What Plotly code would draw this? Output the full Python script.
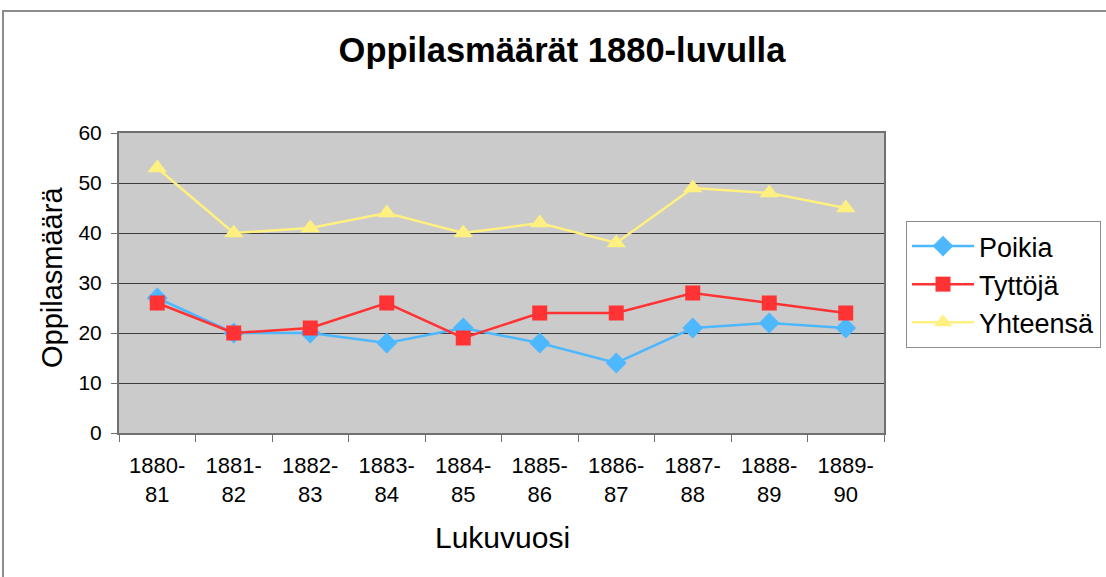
import plotly.graph_objects as go

categories = ["1880-<br>81", "1881-<br>82", "1882-<br>83", "1883-<br>84", "1884-<br>85",
              "1885-<br>86", "1886-<br>87", "1887-<br>88", "1888-<br>89", "1889-<br>90"]
poikia = [27, 20, 20, 18, 21, 18, 14, 21, 22, 21]
tyttoja = [26, 20, 21, 26, 19, 24, 24, 28, 26, 24]
yhteensa = [53, 40, 41, 44, 40, 42, 38, 49, 48, 45]

FONT = "Liberation Sans, Arial, sans-serif"
W, H = 1106, 577
L, R, T, B = 119, 884, 133, 433

fig = go.Figure()
fig.add_trace(go.Scatter(x=categories, y=poikia, name="Poikia", mode="lines+markers",
                         line=dict(color="#4DB8FF", width=2.5),
                         marker=dict(symbol="diamond", size=16, color="#4DB8FF")))
fig.add_trace(go.Scatter(x=categories, y=tyttoja, name="Tyttöjä", mode="lines+markers",
                         line=dict(color="#FF3333", width=2.5),
                         marker=dict(symbol="square", size=15, color="#FF3333")))
fig.add_trace(go.Scatter(x=categories, y=yhteensa, name="Yhteensä", mode="lines+markers",
                         line=dict(color="#FFF07F", width=2.5),
                         marker=dict(symbol="triangle-up", size=17, color="#FFF07F")))

def px(x):
    return (x - L) / (R - L)

def py(y):
    return (B - y) / (B - T)

fig.update_layout(
    width=W, height=H,
    margin=dict(l=L, r=W - R, t=T, b=H - B, autoexpand=False),
    paper_bgcolor="white",
    plot_bgcolor="#CBCBCB",
    font=dict(family=FONT, color="black"),
    title=dict(text="<b>Oppilasmäärät 1880-luvulla</b>", font=dict(size=34.5, family=FONT),
               x=562 / W, xanchor="center", xref="container",
               y=1 - 50 / H, yanchor="middle", yref="container"),
    showlegend=True,
    legend=dict(x=px(906), y=py(221), xanchor="left", yanchor="top",
                bordercolor="#8C8C8C", borderwidth=1, bgcolor="white",
                font=dict(size=27, family=FONT), itemwidth=62),
    xaxis=dict(type="category", range=[-0.5, 9.5], showgrid=False, zeroline=False,
               showline=True, linecolor="#707070", linewidth=2, mirror=True,
               ticks="outside", tickson="boundaries", ticklen=7, tickcolor="#707070",
               tickfont=dict(size=22, family=FONT), ticklabelstandoff=12),
    yaxis=dict(range=[0, 60], dtick=10, showgrid=True, gridcolor="#3C3C3C", gridwidth=1,
               zeroline=False, showline=True, linecolor="#707070", linewidth=2, mirror=True,
               ticks="outside", ticklen=6, tickcolor="#707070",
               tickfont=dict(size=21, family=FONT), ticklabelstandoff=5),
    annotations=[
        dict(text="Lukuvuosi", x=px(502), y=py(537), xref="paper", yref="paper",
             xanchor="center", yanchor="middle", showarrow=False,
             font=dict(size=30, family=FONT)),
        dict(text="Oppilasmäärä", x=px(52), y=py(278), xref="paper", yref="paper",
             xanchor="center", yanchor="middle", showarrow=False, textangle=-90,
             font=dict(size=29, family=FONT)),
    ],
    shapes=[
        dict(type="rect", xref="paper", yref="paper",
             x0=px(3), x1=px(1112), y0=py(585), y1=py(11),
             line=dict(color="#8C8C8C", width=2), fillcolor="rgba(0,0,0,0)", layer="below"),
    ],
)

fig.write_html("out.html", config={"displayModeBar": False},
               post_script="document.body.style.margin='0px';")
